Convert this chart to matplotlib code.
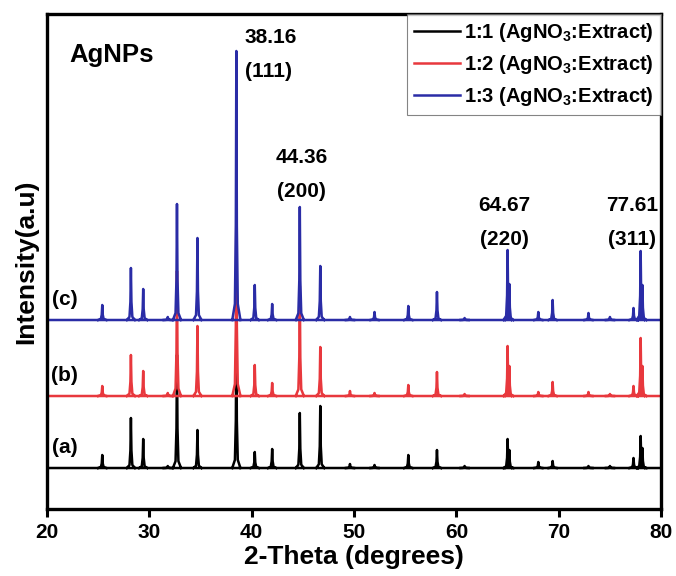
import numpy as np
import matplotlib
matplotlib.use("Agg")
import matplotlib.pyplot as plt

plt.rcParams['font.family'] = ['Liberation Sans', 'DejaVu Sans']
plt.rcParams['font.weight'] = 'bold'
plt.rcParams['mathtext.fontset'] = 'custom'
plt.rcParams['mathtext.rm'] = 'Liberation Sans:bold'
plt.rcParams['mathtext.bf'] = 'Liberation Sans:bold'
plt.rcParams['mathtext.default'] = 'bf'

# peak positions (2-theta, degrees)
peak_pos = [25.4, 28.2, 29.4, 31.8, 32.7, 34.7, 38.5, 40.3, 42.0, 44.7, 46.7,
            49.6, 52.0, 55.3, 58.1, 60.8, 65.0, 65.17, 68.0, 69.4, 72.9, 75.0,
            77.3, 78.0, 78.17]

# peak heights above each trace's own baseline (arbitrary units)
height_a = [13, 50, 29, 2, 113, 38, 135, 16, 19, 55, 62,
            4, 3, 13, 18, 2, 29, 18, 6, 7, 2, 2,
            10, 32, 20]
height_b = [10, 41, 25, 3, 125, 70, 200, 31, 13, 110, 49,
            5, 3, 11, 24, 2, 50, 30, 4, 14, 4, 2,
            10, 58, 30]
height_c = [15, 52, 31, 3, 116, 82, 269, 35, 16, 113, 54,
            3, 8, 14, 28, 2, 70, 36, 8, 20, 7, 3,
            12, 69, 35]

series_labels = ['1:1 (AgNO$_3$:Extract)', '1:2 (AgNO$_3$:Extract)', '1:3 (AgNO$_3$:Extract)']
trace_tags = ['(a)', '(b)', '(c)']
colors = ['#000000', '#e8383d', '#2a2ca6']
offsets = [41, 113, 189]

# annotated reflections
ann_x = [39.3, 44.9, 64.7, 77.2]
ann_val = ['38.16', '44.36', '64.67', '77.61']
ann_hkl = ['(111)', '(200)', '(220)', '(311)']
ann_y = [471, 352, 304, 304]
ann_align = ['left', 'center', 'center', 'center']


def trace(pos, hts, base):
    # baseline, then each peak as its own outline (NaN keeps them apart)
    dx = [-0.4, -0.14, -0.05, 0.0, 0.05, 0.14, 0.4]
    fr = [0.0, 0.06, 0.35, 1.0, 0.35, 0.06, 0.0]
    xs, ys = [20.0, 80.0], [base, base]
    for p, h in zip(pos, hts):
        xs += [np.nan] + [p + d for d in dx]
        ys += [np.nan] + [base + f * h for f in fr]
    return xs, ys


fig = plt.figure(figsize=(6.76, 5.76), dpi=100)
ax = fig.add_axes([0.0695, 0.1163, 0.9085, 0.8594])

for hts, off, col, lab in zip([height_a, height_b, height_c], offsets, colors, series_labels):
    xs, ys = trace(peak_pos, hts, off)
    ax.plot(xs, ys, color=col, lw=1.8, label=lab)

for tag, off in zip(trace_tags, offsets):
    ax.text(21.7, off + 21, tag, ha='center', va='center', fontsize=15, fontweight='bold')

for x, v, hkl, y, al in zip(ann_x, ann_val, ann_hkl, ann_y, ann_align):
    ax.text(x, y, v, ha=al, va='center', fontsize=15, fontweight='bold')
    ax.text(x, y - 34, hkl, ha=al, va='center', fontsize=15, fontweight='bold')

ax.text(22.2, 454, 'AgNPs', ha='left', va='center', fontsize=18.5, fontweight='bold')

ax.set_xlim(20, 80)
ax.set_ylim(0, 495)
ax.set_yticks([])
ax.set_xticks([20, 30, 40, 50, 60, 70, 80])
ax.tick_params(axis='x', direction='out', length=6, width=2.2, pad=4)
for lbl in ax.get_xticklabels():
    lbl.set_fontsize(15)
    lbl.set_fontweight('bold')
for sp in ax.spines.values():
    sp.set_linewidth(2.4)

ax.set_xlabel('2-Theta (degrees)', fontsize=19, fontweight='bold', labelpad=2)
ax.set_ylabel('Intensity(a.u)', fontsize=19, fontweight='bold', labelpad=6)

leg = ax.legend(loc='upper right', borderaxespad=0, fancybox=False,
                handlelength=2.3, handletextpad=0.2, labelspacing=0.45,
                borderpad=0.35, prop={'weight': 'bold', 'size': 14.5})
leg.get_frame().set_edgecolor('#666666')
leg.get_frame().set_linewidth(0.8)

fig.savefig('out.png', dpi=100)
